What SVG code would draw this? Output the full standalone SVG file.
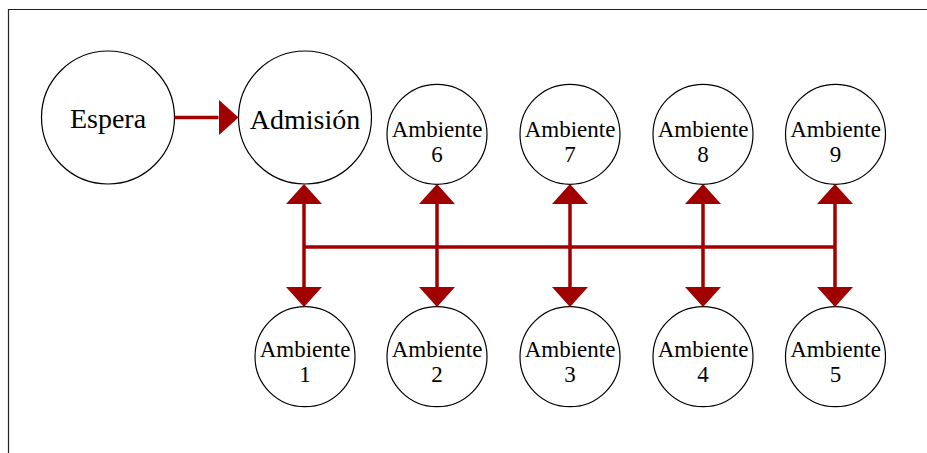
<svg xmlns="http://www.w3.org/2000/svg" width="927" height="453" viewBox="0 0 927 453">
<style>
.node circle{fill:#fff;stroke:#000;stroke-width:1.2}
.big{font-family:"Liberation Serif","Times New Roman",serif;font-size:28px;fill:#000;text-anchor:middle}
.sm{font-family:"Liberation Serif","Times New Roman",serif;font-size:23px;fill:#000;text-anchor:middle}
.conn path{fill:none;stroke:#a00000;stroke-width:3.5}
.frame{stroke:#222;stroke-width:1.2;fill:none}
</style>
<defs>
<marker id="ah" markerUnits="userSpaceOnUse" markerWidth="20" markerHeight="36" refX="0" refY="18" orient="auto" viewBox="0 0 20 36">
<path d="M0,0 L20,18 L0,36 z" fill="#a00000"/>
</marker>
</defs>
<path class="frame" d="M8.5,453 V9.5 H927"/>
<g id="espera" class="node"><circle cx="108" cy="117.5" r="66.5"/><text class="big" x="108" y="128">Espera</text></g>
<g id="admision" class="node"><circle cx="305" cy="117.5" r="66.5"/><text class="big" x="305" y="129">Admisión</text></g>
<g id="amb6" class="node"><circle cx="437" cy="134.3" r="50"/><text class="sm" x="437" y="137">Ambiente</text><text class="sm" x="437" y="162">6</text></g>
<g id="amb7" class="node"><circle cx="570" cy="134.3" r="50"/><text class="sm" x="570" y="137">Ambiente</text><text class="sm" x="570" y="162">7</text></g>
<g id="amb8" class="node"><circle cx="703" cy="134.3" r="50"/><text class="sm" x="703" y="137">Ambiente</text><text class="sm" x="703" y="162">8</text></g>
<g id="amb9" class="node"><circle cx="835.5" cy="134.3" r="50"/><text class="sm" x="835.5" y="137">Ambiente</text><text class="sm" x="835.5" y="162">9</text></g>
<g id="amb1" class="node"><circle cx="305" cy="356.7" r="50"/><text class="sm" x="305" y="357">Ambiente</text><text class="sm" x="305" y="382">1</text></g>
<g id="amb2" class="node"><circle cx="437" cy="356.7" r="50"/><text class="sm" x="437" y="357">Ambiente</text><text class="sm" x="437" y="382">2</text></g>
<g id="amb3" class="node"><circle cx="570" cy="356.7" r="50"/><text class="sm" x="570" y="357">Ambiente</text><text class="sm" x="570" y="382">3</text></g>
<g id="amb4" class="node"><circle cx="703" cy="356.7" r="50"/><text class="sm" x="703" y="357">Ambiente</text><text class="sm" x="703" y="382">4</text></g>
<g id="amb5" class="node"><circle cx="835.5" cy="356.7" r="50"/><text class="sm" x="835.5" y="357">Ambiente</text><text class="sm" x="835.5" y="382">5</text></g>
<g id="connectors" class="conn">
<path d="M174.5,117.5 H218.5" marker-end="url(#ah)"/>
<path d="M304,247 H835.5"/>
<path d="M304,247 V204" marker-end="url(#ah)"/>
<path d="M304,247 V287" marker-end="url(#ah)"/>
<path d="M437,247 V204" marker-end="url(#ah)"/>
<path d="M437,247 V287" marker-end="url(#ah)"/>
<path d="M570,247 V204" marker-end="url(#ah)"/>
<path d="M570,247 V287" marker-end="url(#ah)"/>
<path d="M703,247 V204" marker-end="url(#ah)"/>
<path d="M703,247 V287" marker-end="url(#ah)"/>
<path d="M835,247 V204" marker-end="url(#ah)"/>
<path d="M835,247 V287" marker-end="url(#ah)"/>
</g>
</svg>
